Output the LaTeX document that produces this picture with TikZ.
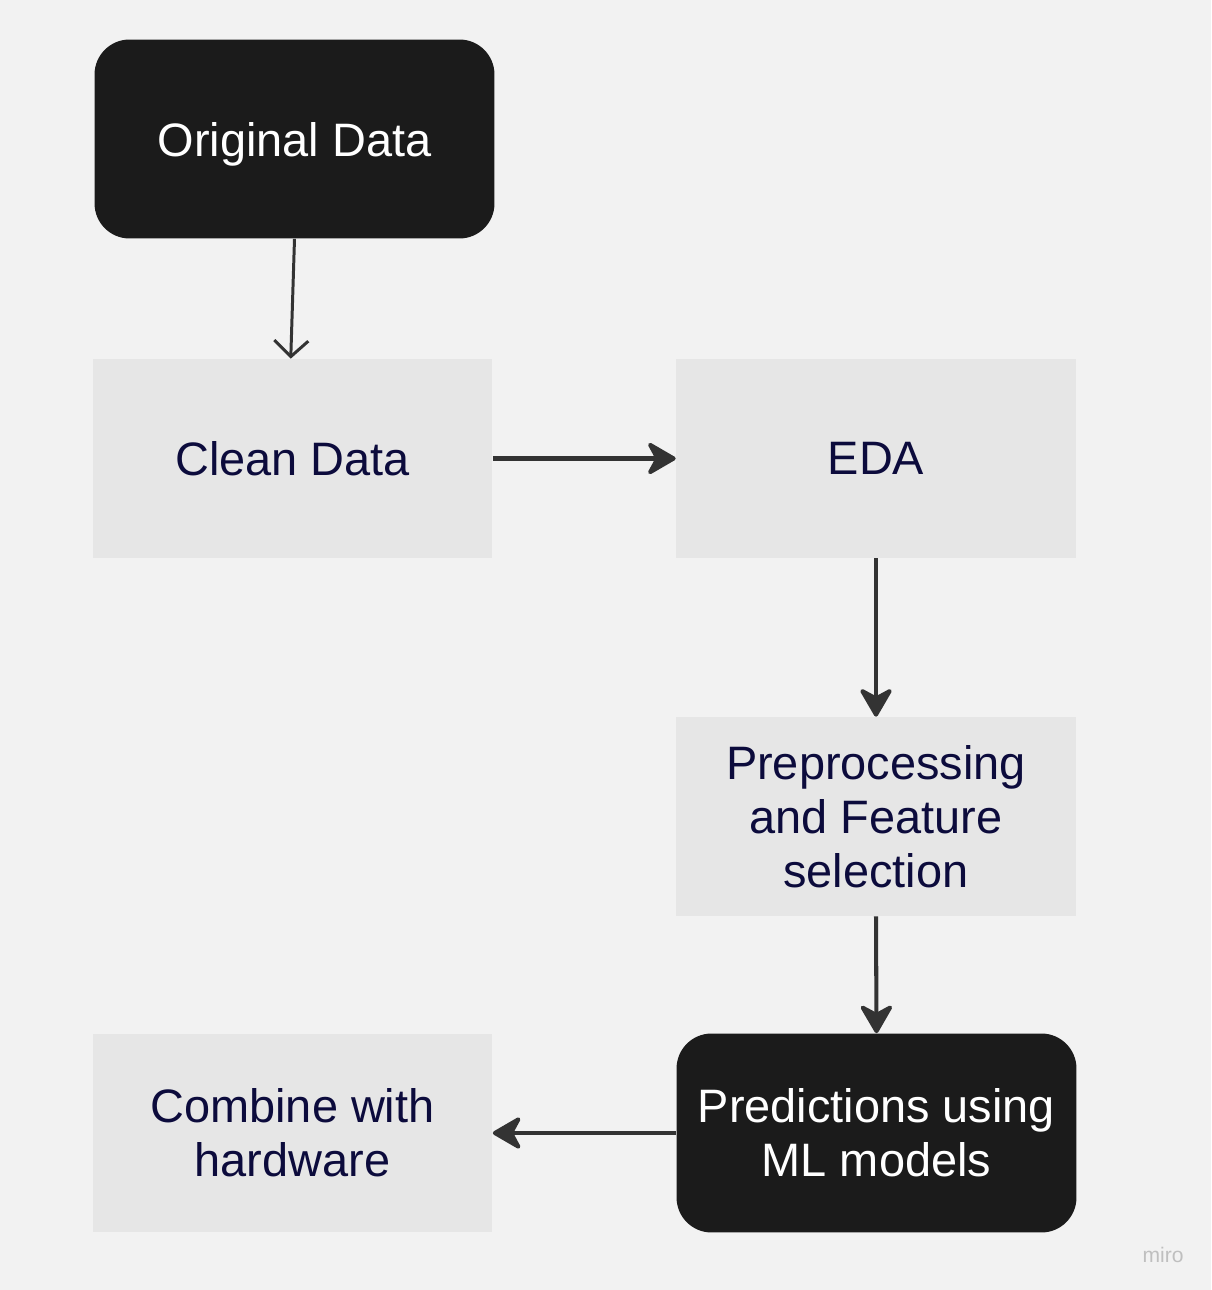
\documentclass[tikz,border=0pt]{standalone}
\usepackage{fontspec}
\setmainfont{Liberation Sans}
\usetikzlibrary{arrows.meta}
\definecolor{bgc}{HTML}{F2F2F2}
\definecolor{boxc}{HTML}{E6E6E6}
\definecolor{darkc}{HTML}{1B1B1B}
\definecolor{txtc}{HTML}{0C0B3C}
\definecolor{linec}{HTML}{333333}
\begin{document}
\begin{tikzpicture}[x=0.02cm, y=-0.02cm,
	greybox/.style={fill=boxc, text=txtc, minimum width=8cm, minimum height=3.98cm, inner sep=0pt, align=center, font=\fontsize{26.7}{30.6}\selectfont},
	darkbox/.style={greybox, fill=darkc, text=white, rounded corners=0.7cm},
	flow/.style={draw=linec, line width=2.3pt, -{Stealth[round, length=6.5mm, width=7.5mm, inset=2mm]}}]
	\fill [bgc] (0,0) rectangle (1211,1290);
	\node [darkbox] (orig) at (294.5,139) {\raisebox{-3.5mm}[0pt][0pt]{Original Data}};
	\node [greybox] (clean) at (292.5,458.5) {Clean Data};
	\node [greybox] (eda) at (876,458.5) {EDA};
	\node [greybox] (prep) at (876,816.5) {Preprocessing\\and Feature\\selection};
	\node [darkbox] (pred) at (876.5,1133) {Predictions using\\ML models};
	\node [greybox] (comb) at (292.5,1133) {Combine with\\hardware};
	\draw [draw=linec, line width=1.7pt, -{Straight Barb[length=3.2mm, width=6.8mm, line width=1.7pt]}] (orig.south) -- ([xshift=-1pt]clean.north);
	\draw [flow] (clean.east) -- (eda.west);
	\draw [flow] (eda.south) -- (prep.north);
	\draw [flow] (prep.south) -- (pred.north);
	\draw [flow] (pred.west) -- (comb.east);
	\node [text=black!25, font=\fontsize{12}{14}\selectfont] (miro) at (1163,1255) {miro};
\end{tikzpicture}
\end{document}
